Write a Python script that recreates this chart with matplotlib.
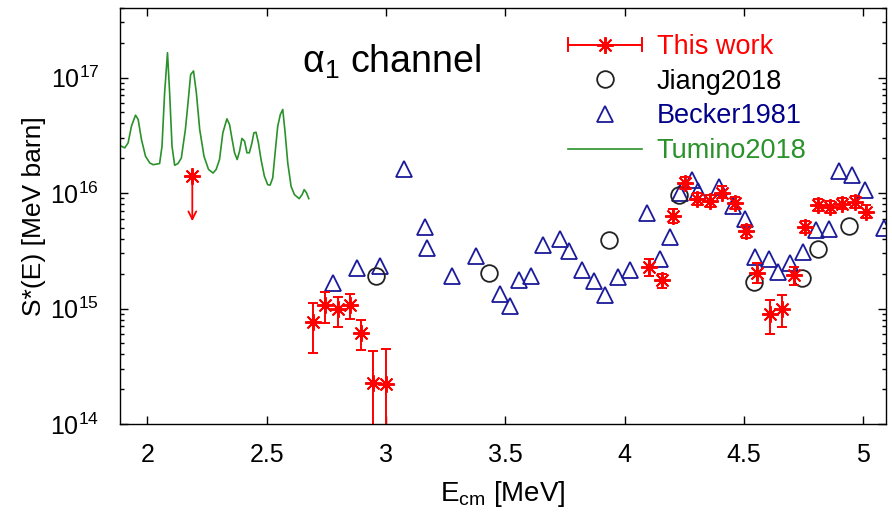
import numpy as np
import matplotlib
matplotlib.use("Agg")
import matplotlib.pyplot as plt
from matplotlib.lines import Line2D
from matplotlib.legend_handler import HandlerBase
from matplotlib.ticker import LogLocator, FixedLocator, FormatStrFormatter, NullFormatter, LogFormatterMathtext

plt.rcParams['font.family'] = ['Liberation Sans', 'DejaVu Sans']
plt.rcParams['mathtext.fontset'] = 'custom'
plt.rcParams['mathtext.rm'] = 'Liberation Sans'
plt.rcParams['mathtext.it'] = 'Liberation Sans:italic'
plt.rcParams['mathtext.bf'] = 'Liberation Sans:bold'

# ---------------- data ----------------
tumino_x = [1.891, 1.905, 1.919, 1.933, 1.950, 1.961, 1.975, 1.992, 2.010, 2.024,
            2.051, 2.061, 2.072, 2.084, 2.093, 2.103, 2.114, 2.128, 2.142, 2.159,
            2.170, 2.181, 2.193, 2.205, 2.219, 2.237, 2.256, 2.275, 2.288, 2.302,
            2.316, 2.333, 2.344, 2.355, 2.365, 2.376, 2.386, 2.396, 2.407, 2.417,
            2.427, 2.438, 2.446, 2.455, 2.465, 2.476, 2.490, 2.504, 2.514, 2.525,
            2.535, 2.546, 2.557, 2.567, 2.577, 2.588, 2.602, 2.616, 2.636, 2.648,
            2.657, 2.667, 2.676]
tumino_y = [2.54e16, 2.46e16, 2.72e16, 3.79e16, 4.72e16, 4.34e16, 2.90e16, 2.08e16, 1.82e16, 1.76e16,
            1.80e16, 2.54e16, 7.38e16, 1.64e17, 7.38e16, 2.54e16, 1.74e16, 1.80e16, 2.01e16, 3.55e16,
            6.04e16, 1.06e17, 1.14e17, 7.38e16, 3.55e16, 2.08e16, 1.60e16, 1.49e16, 1.60e16, 1.95e16,
            3.32e16, 4.39e16, 3.92e16, 2.90e16, 2.23e16, 1.95e16, 2.30e16, 2.97e16, 2.81e16, 2.23e16,
            2.23e16, 2.72e16, 3.32e16, 3.36e16, 2.72e16, 1.95e16, 1.40e16, 1.18e16, 1.17e16, 1.35e16,
            2.23e16, 3.79e16, 4.79e16, 5.29e16, 3.32e16, 1.82e16, 1.14e16, 9.68e15, 8.94e15, 9.68e15,
            1.07e16, 1.00e16, 8.94e15]

work_x = [2.695, 2.745, 2.797, 2.848, 2.897, 2.946, 2.999, 4.103, 4.155, 4.204,
          4.252, 4.305, 4.357, 4.406, 4.461, 4.507, 4.555, 4.608, 4.661, 4.708,
          4.757, 4.812, 4.861, 4.911, 4.963, 5.012]
work_y = [7.7e14, 1.08e15, 9.9e14, 1.08e15, 6.1e14, 2.25e14, 2.22e14, 2.29e15, 1.75e15, 6.3e15,
          1.22e16, 8.9e15, 8.6e15, 1.01e16, 8.2e15, 4.66e15, 2.03e15, 9.0e14, 1.0e15, 1.96e15,
          5.08e15, 7.9e15, 7.57e15, 8.09e15, 8.3e15, 6.9e15]
work_hi = [1.11e15, 1.40e15, 1.27e15, 1.34e15, 7.9e14, 4.3e14, 4.5e14, 2.7e15, 2.0e15, 7.2e15,
           1.38e16, 1.0e16, 9.7e15, 1.14e16, 9.3e15, 5.3e15, 2.48e15, 1.19e15, 1.31e15, 2.31e15,
           5.7e15, 8.9e15, 8.5e15, 9.1e15, 9.4e15, 7.8e15]
work_lo = [4.1e14, 7.5e14, 6.98e14, 8.1e14, 4.4e14, 5e13, 5e13, 1.9e15, 1.5e15, 5.5e15,
           1.08e16, 7.9e15, 7.6e15, 9.0e15, 7.3e15, 4.1e15, 1.66e15, 6.04e14, 6.9e14, 1.61e15,
           4.5e15, 7.0e15, 6.7e15, 7.2e15, 7.4e15, 6.1e15]

limit_x = [2.188]
limit_y = [1.40e16]
limit_to = [5.7e15]

jiang_x = [2.957, 3.430, 3.936, 4.227, 4.541, 4.743, 4.812, 4.942]
jiang_y = [1.90e15, 2.05e15, 3.95e15, 9.55e15, 1.69e15, 1.84e15, 3.30e15, 5.14e15]

becker_x = [2.776, 2.880, 2.975, 3.075, 3.162, 3.173, 3.277, 3.378, 3.479, 3.521,
            3.559, 3.608, 3.658, 3.727, 3.765, 3.821, 3.872, 3.918, 3.974, 4.023,
            4.092, 4.148, 4.190, 4.232, 4.284, 4.309, 4.396, 4.455, 4.504, 4.546,
            4.605, 4.643, 4.691, 4.747, 4.803, 4.855, 4.900, 4.952, 5.005, 5.088]
becker_y = [1.66e15, 2.24e15, 2.35e15, 1.60e16, 5.08e15, 3.34e15, 1.92e15, 2.87e15, 1.34e15, 1.05e15,
            1.75e15, 1.90e15, 3.57e15, 4.00e15, 3.12e15, 2.17e15, 1.74e15, 1.32e15, 1.87e15, 2.14e15,
            6.7e15, 2.68e15, 4.16e15, 1.01e16, 1.29e16, 1.04e16, 1.13e16, 7.7e15, 5.96e15, 2.79e15,
            2.68e15, 2.09e15, 2.48e15, 3.06e15, 4.75e15, 4.89e15, 1.54e16, 1.43e16, 1.07e16, 4.98e15]

x_ticks = [2, 2.5, 3, 3.5, 4, 4.5, 5]
y_ticks = [1e14, 1e15, 1e16, 1e17]

RED = '#ff0000'
BLUE = '#1a1a9a'
GREEN = '#2a922a'
STAR = (8, 2, 0)

fig = plt.figure(figsize=(8.92, 5.12), dpi=100)
ax = fig.add_axes([120/892, 88/512, 766/892, 416/512])

ax.plot(tumino_x, tumino_y, color=GREEN, lw=1.2, label='Tumino2018')

ax.plot(becker_x, becker_y, ls='none', marker='^', ms=11, mfc='none', mec=BLUE, mew=1.3,
        label='Becker1981')
ax.plot(jiang_x, jiang_y, ls='none', marker='o', ms=12, mfc='none', mec='#222222', mew=1.3,
        label='Jiang2018')

wy = np.array(work_y)
yerr = [wy - np.array(work_lo), np.array(work_hi) - wy]
eb = ax.errorbar(work_x, work_y, yerr=yerr, ls='none', marker=STAR, ms=12, mew=1.4,
                 color=RED, ecolor=RED, elinewidth=1.4, capsize=3.8, capthick=1.4,
                 label='This work')

ax.plot(limit_x, limit_y, ls='none', marker=STAR, ms=12, mew=1.4, color=RED)
for lx, ly, lt in zip(limit_x, limit_y, limit_to):
    ax.annotate('', xy=(lx, lt), xytext=(lx, ly),
                arrowprops=dict(arrowstyle='->', color=RED, lw=1.3,
                                mutation_scale=14, shrinkA=0, shrinkB=0))

ax.set_yscale('log')
ax.set_xlim(1.885, 5.095)
ax.set_ylim(1e14, 4e17)

ax.xaxis.set_major_locator(FixedLocator(x_ticks))
ax.xaxis.set_major_formatter(FormatStrFormatter('%g'))
ax.yaxis.set_major_locator(FixedLocator(y_ticks))
ax.yaxis.set_major_formatter(LogFormatterMathtext())
ax.yaxis.set_minor_locator(LogLocator(base=10, subs=np.arange(2, 10), numticks=20))
ax.yaxis.set_minor_formatter(NullFormatter())

ax.tick_params(which='both', direction='in', top=True, right=True, width=1.0)
ax.tick_params(which='major', length=6, labelsize=18)
ax.tick_params(which='minor', length=3)
ax.tick_params(axis='x', pad=14)
ax.tick_params(axis='y', pad=15)
for s in ax.spines.values():
    s.set_linewidth(1.0)

ax.set_xlabel(r'$\mathrm{E_{cm}}$ [MeV]', fontsize=20, labelpad=8)
ax.set_ylabel('S*(E) [MeV barn]', fontsize=19)
ax.yaxis.set_label_coords(-0.097, 0.5)

ax.text(0.237, 0.87, r'$\mathrm{α_1}$ channel', transform=ax.transAxes,
        fontsize=27, va='center', ha='left')


class HBarHandler(HandlerBase):
    def create_artists(self, legend, orig_handle, xdescent, ydescent, width, height,
                       fontsize, trans):
        y = (height - ydescent) / 2.0
        x0 = -xdescent
        x1 = -xdescent + width
        c = height * 0.33
        arts = [Line2D([x0, x1], [y, y], color=RED, lw=1.4),
                Line2D([x0, x0], [y - c, y + c], color=RED, lw=1.4),
                Line2D([x1, x1], [y - c, y + c], color=RED, lw=1.4),
                Line2D([(x0 + x1) / 2], [y], ls='none', marker=STAR, ms=12, mew=1.4, color=RED)]
        for a in arts:
            a.set_transform(trans)
        return arts


h_work = Line2D([], [], color=RED)
h_jiang = Line2D([], [], ls='none', marker='o', ms=12, mfc='none', mec='#222222', mew=1.3)
h_becker = Line2D([], [], ls='none', marker='^', ms=11, mfc='none', mec=BLUE, mew=1.3)
h_tum = Line2D([], [], color=GREEN, lw=1.2)
leg = ax.legend([h_work, h_jiang, h_becker, h_tum],
                ['This work', 'Jiang2018', 'Becker1981', 'Tumino2018'],
                handler_map={h_work: HBarHandler()},
                loc='upper left', bbox_to_anchor=((568 - 120) / 766, (424 - 34) / 416),
                frameon=False, fontsize=19.5, handlelength=2.73, handletextpad=0.55,
                labelspacing=0.32, borderpad=0, borderaxespad=0,
                labelcolor=[RED, 'black', '#00008b', GREEN])

fig.savefig('out.png', dpi=100)
